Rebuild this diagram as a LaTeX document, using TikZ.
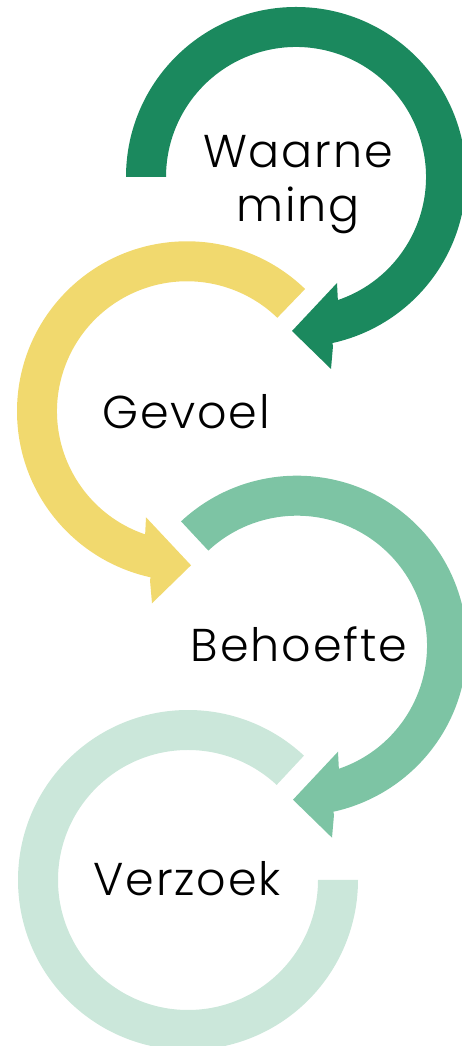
\documentclass[tikz,border=0pt]{standalone}
\usepackage{fontspec}
\IfFontExistsTF{Poppins Light}{\setmainfont{Poppins Light}[LetterSpace=4]}{\setmainfont{Poppins}[LetterSpace=4]}
\definecolor{cDark}{RGB}{27,137,94}
\definecolor{cYel}{RGB}{241,217,110}
\definecolor{cMid}{RGB}{125,196,164}
\definecolor{cLight}{RGB}{203,231,218}
\begin{document}
\begin{tikzpicture}[x=1pt,y=1pt,
  lbl/.style={font=\fontsize{46}{54}\selectfont, text=black, inner sep=0pt, anchor=base}]
\useasboundingbox (0,0) rectangle (461,1046);
% circle 1: dark green, clockwise arrow
\begin{scope}[shift={(296,869)}]
\fill[cDark] (180:170pt) arc[start angle=180,end angle=-77.65,radius=170pt]
  -- (37,-169) -- (35,-192) -- (-4,-154) -- (41,-106) -- (42,-126)
  -- (-71.56:130pt) arc[start angle=-71.56,end angle=180,radius=130pt] -- cycle;
\end{scope}
% circle 2: yellow, counter-clockwise arrow
\begin{scope}[shift={(187,634.7)}]
\fill[cYel] (46:170pt) arc[start angle=46,end angle=257.65,radius=170pt]
  -- (-37,-169) -- (-35,-192) -- (4,-154) -- (-41,-106) -- (-42,-126)
  -- (251.56:130pt) arc[start angle=251.56,end angle=46,radius=130pt] -- cycle;
\end{scope}
% circle 3: mid green, clockwise arrow
\begin{scope}[shift={(297,400.3)}]
\fill[cMid] (133:170pt) arc[start angle=133,end angle=-77.65,radius=170pt]
  -- (37,-169) -- (35,-192) -- (-4,-154) -- (41,-106) -- (42,-126)
  -- (-71.56:130pt) arc[start angle=-71.56,end angle=133,radius=130pt] -- cycle;
\end{scope}
% circle 4: light green ring
\begin{scope}[shift={(188,166)}]
\fill[cLight] (47:170pt) arc[start angle=47,end angle=360,radius=170pt]
  -- (0:130pt) arc[start angle=360,end angle=47,radius=130pt] -- cycle;
\end{scope}
\node[lbl] (waarne) at (298,878) {Waarne};
\node[lbl] (ming) at (298,824) {ming};
\node[lbl] (gevoel) at (186,617) {Gevoel};
\node[lbl] (behoefte) at (299,384) {Behoefte};
\node[lbl] (verzoek) at (187,150) {Verzoek};
\end{tikzpicture}
\end{document}
